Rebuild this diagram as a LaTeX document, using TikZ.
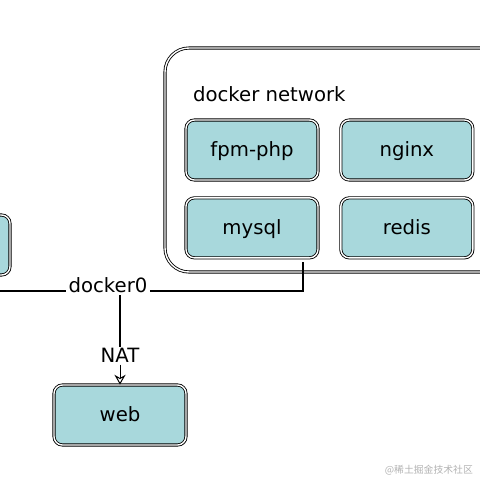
\documentclass[tikz,border=0pt]{standalone}
\usepackage{fontspec}
\setmainfont{DejaVu Sans}
\newfontfamily\cjk{Noto Sans CJK SC}
\usepackage{tikz}
\usetikzlibrary{positioning,shadows,calc,arrows.meta}
\definecolor{boxfill}{RGB}{168,216,220}
\tikzset{
  dk schemes/.style = {
    line width = 0.6pt,
    font = \fontsize{14}{16}\selectfont,
    % service boxes
    svc/.style = {
      draw, double, double distance=1pt, fill=boxfill,
      rounded corners=6pt,
      minimum width=3.3cm, minimum height=1.5cm,
      text height=2ex, text depth=0.35ex,
      drop shadow={opacity=0.18, shadow xshift=1pt, shadow yshift=-1pt}
    },
    node distance = 0.425cm and 0.55cm,
    netbox/.style = {draw, double, double distance=1pt, rounded corners=0.6cm},
    tag/.style = {fill=white, inner sep=1.5pt},
    bus line/.style = {line width=1.3pt},
    nat line/.style = {line width=0.7pt, -{Stealth[length=7pt,width=8pt,open]}},
  }
}
\begin{document}
\begin{tikzpicture}[dk schemes]
\useasboundingbox (0,0) rectangle (12,-12);
%---------------------------------------------
\draw[netbox] (4.125,-1.2) rectangle (12.6,-6.8);
\node[anchor=west] (netname) at (4.7,-2.35) {docker network};
\node[svc] (fpm) at (6.3,-3.75) {fpm-php};
\node[svc, right=of fpm] (nginx) {nginx};
\node[svc, below=of fpm] (mysql) {mysql};
\node[svc, right=of mysql] (redis) {redis};
% host box, cut by the margin
\node[svc] (host) at (-1.4,-6.125) {};
\node[svc] (web) at (3.0,-10.375) {web};
%---------------------------------------------
\node[tag] (dock) at (2.7,-7.13) {docker0};
\coordinate (busw) at (0,-7.275);
\coordinate (bush) at (7.575,-7.275);
\coordinate (busv) at ($(mysql.south)+(1.275,-0.1)$);
\draw[bus line] (busw) -- (dock.west |- busw);
\draw[bus line] (dock.east |- busw) -- (bush) -- (busv);
\node[tag] (nat) at (3.0,-8.875) {NAT};
\draw[bus line] (dock.south -| web.north) -- ($(nat.north)+(0,-0.05)$);
\draw[nat line] (nat) -- (web);
\node[text=gray!60, anchor=east, font=\cjk\fontsize{7}{8}\selectfont] (mark) at (11.95,-11.75) {@稀土掘金技术社区};
\end{tikzpicture}
\end{document}
